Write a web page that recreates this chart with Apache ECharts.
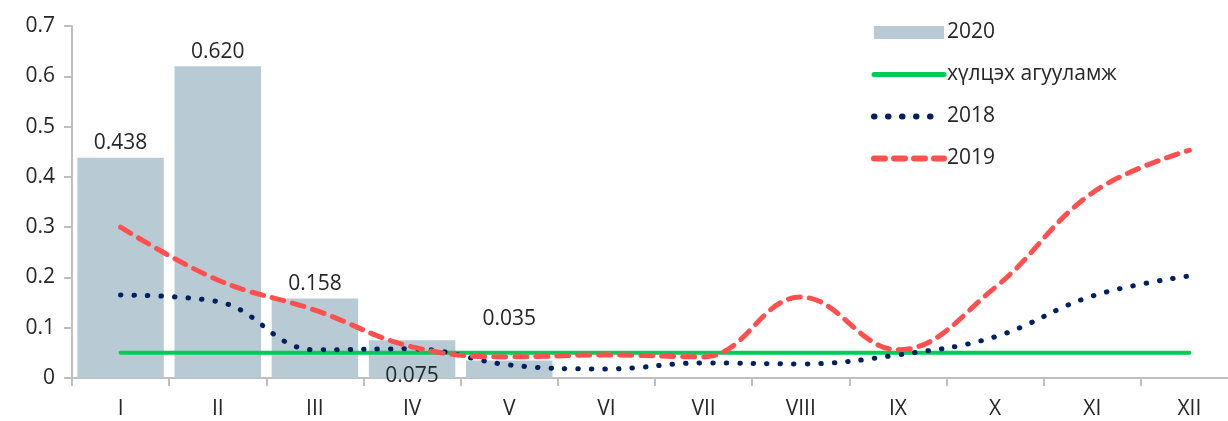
<!DOCTYPE html>
<html><head><meta charset="utf-8">
<script src="https://cdn.jsdelivr.net/npm/echarts@6/dist/echarts.min.js"></script>
<style>html,body{margin:0;padding:0;background:#fff;overflow:hidden}#c{width:1242px;height:421px}</style>
</head><body><div id="c"></div>
<script>
var categories = ['I','II','III','IV','V','VI','VII','VIII','IX','X','XI','XII'];
var values2020 = [0.438, 0.620, 0.158, 0.075, 0.035];
var threshold = [0.05,0.05,0.05,0.05,0.05,0.05,0.05,0.05,0.05,0.05,0.05,0.05];
var values2018 = [0.165, 0.152, 0.056, 0.058, 0.026, 0.018, 0.030, 0.028, 0.046, 0.082, 0.163, 0.203];
var values2019 = [0.300, 0.195, 0.135, 0.062, 0.042, 0.046, 0.042, 0.161, 0.056, 0.180, 0.368, 0.453];
var seriesNames = ['2020', 'хүлцэх агууламж', '2018', '2019'];

var FONT = '"Open Sans", "Noto Sans", sans-serif';
var barData = values2020.map(function(v, i){
  var d = {value: v};
  if (i === 3) d.label = {offset: [0, 50]};
  if (i === 4) d.label = {offset: [0, -27]};
  return d;
});
var hideSym = {opacity: 0};
var chart = echarts.init(document.getElementById('c'), null, {renderer: 'canvas'});
chart.setOption({
  animation: false,
  backgroundColor: '#fff',
  grid: {left: 72, top: 26, right: 4, height: 352, containLabel: false},
  legend: {
    orient: 'vertical', left: 866, top: 17, itemWidth: 70, itemHeight: 13, itemGap: 21,
    textStyle: {fontFamily: FONT, fontSize: 21, color: '#262626', padding: [0,0,0,-2]},
    data: [
      {name: seriesNames[0], icon: 'rect'},
      {name: seriesNames[1], itemStyle: hideSym, lineStyle: {width: 5, cap: 'round'}},
      {name: seriesNames[2], itemStyle: hideSym, lineStyle: {width: 6, type: [0.5, 13.5], cap: 'round'}},
      {name: seriesNames[3], itemStyle: hideSym, lineStyle: {width: 6, type: [11, 9], cap: 'round'}}
    ]
  },
  xAxis: {
    type: 'category', data: categories, boundaryGap: true,
    axisLine: {lineStyle: {color: '#bfbfbf', width: 2}},
    axisTick: {show: true, length: 8, lineStyle: {color: '#bfbfbf', width: 2}},
    axisLabel: {fontFamily: FONT, fontSize: 21, color: '#262626', margin: 21}
  },
  yAxis: {
    type: 'value', min: 0, max: 0.7, interval: 0.1,
    axisLine: {show: true, lineStyle: {color: '#bfbfbf', width: 2}},
    axisTick: {show: true, length: 8, lineStyle: {color: '#bfbfbf', width: 2}},
    splitLine: {show: false},
    axisLabel: {fontFamily: FONT, fontSize: 21, color: '#262626', margin: 17,
      formatter: function(v){ return v === 0 ? '0' : v.toFixed(1); }}
  },
  series: [
    {
      name: seriesNames[0], type: 'bar', data: barData, barCategoryGap: '11%',
      itemStyle: {color: '#b8cbd4'},
      label: {show: true, position: 'top', distance: 4, fontFamily: FONT, fontSize: 21, color: '#262626',
        formatter: function(p){ return p.value.toFixed(3); }},
      z: 1
    },
    {
      name: seriesNames[1], type: 'line', data: threshold, symbol: 'none',
      lineStyle: {color: '#00cc55', width: 4, cap: 'round'},
      itemStyle: {color: '#00cc55'}, z: 2
    },
    {
      name: seriesNames[2], type: 'line', data: values2018, symbol: 'none', smooth: 0.4,
      lineStyle: {color: '#002060', width: 5, type: [0.5, 13], cap: 'round'},
      itemStyle: {color: '#002060'}, z: 3
    },
    {
      name: seriesNames[3], type: 'line', data: values2019, symbol: 'none', smooth: 0.4,
      lineStyle: {color: '#ff5050', width: 5, type: [12, 9], cap: 'round'},
      itemStyle: {color: '#ff5050'}, z: 4
    }
  ]
});
</script></body></html>
